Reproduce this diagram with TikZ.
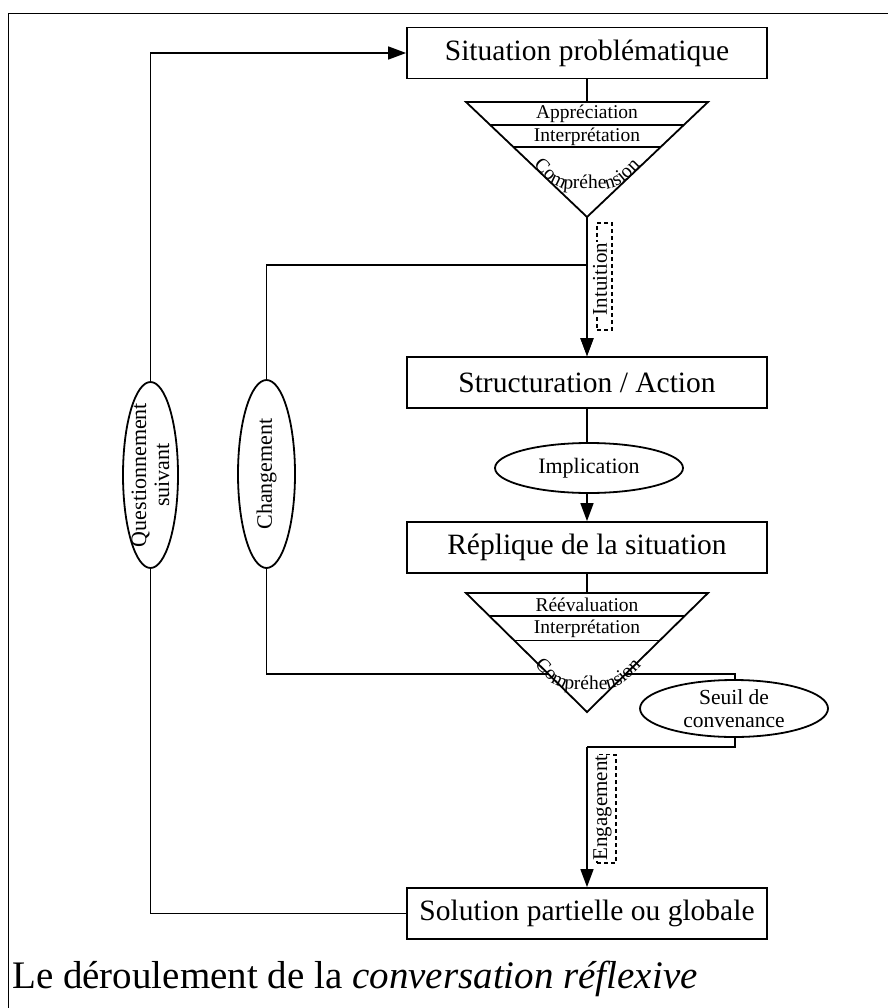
\documentclass[tikz,border=0pt]{standalone}
\usepackage{fontspec}
\setmainfont{Liberation Serif}
\usetikzlibrary{shapes.geometric, arrows.meta, decorations.text, calc}
\begin{document}
\begin{tikzpicture}[x=1pt,y=-1pt,
  box/.style={draw, line width=1.8pt, minimum width=360pt, minimum height=51pt, inner sep=0pt, font=\fontsize{29.5}{30}\selectfont},
  oval/.style={draw, ellipse, line width=1.8pt, fill=white, inner sep=0pt},
  conn/.style={line width=1.6pt},
  arr/.style={line width=1.6pt, -{Triangle[length=18pt,width=13pt]}},
  tri/.style={draw, line width=1.8pt, fill=white, line join=miter},
  lab/.style={font=\fontsize{19.5}{20}\selectfont, inner sep=0pt},
  olab/.style={font=\fontsize{22}{23}\selectfont, inner sep=0pt, align=center},
  dbox/.style={draw, dash pattern=on 4pt off 3pt, line width=1.6pt, inner sep=0pt},
  dlab/.style={font=\fontsize{21}{21}\selectfont, inner sep=1pt, rotate=90, fill=white},
]
\useasboundingbox (0,0) rectangle (887,1008);
\draw[line width=1pt] (8,1010) -- (8,14) -- (890,14);

% boxes
\node[box] (b1) at (587,53) {Situation problématique};
\node[box] (b2) at (587,382.5) {Structuration / Action};
\node[box] (b3) at (587,547.5) {Réplique de la situation};
\node[box] (b4) at (587,913.5) {Solution partielle ou globale};

% triangle coordinates
\coordinate (t1l) at (466,102);
\coordinate (t1r) at (708,102);
\coordinate (t1a) at (587,217);
\coordinate (t2l) at (466,593);
\coordinate (t2r) at (708,593);
\coordinate (t2a) at (587,712);

% ellipse nodes (shapes)
\node[oval, minimum width=55pt, minimum height=186pt] (qs) at (150.5,475) {};
\node[oval, minimum width=57pt, minimum height=188pt] (ch) at (266.5,474) {};

% connectors
\coordinate (chtop) at (587,265);
\coordinate (sr1) at (735,674);
\coordinate (sr2) at (735,747);
\coordinate (eng) at (587,747);

\draw[conn] (b1.south) -- (b1.south |- t1l);
\draw[arr] (t1a) -- (b2.north);
\draw[arr] (qs.north) |- (b1.west);
\draw[conn] (qs.south) |- (b4.west);
\draw[arr] (ch.north) |- (chtop) -- (b2.north);
\draw[conn] (ch.south) |- (sr1) -- (sr2) -- (eng);
\draw[arr] (eng) -- (b4.north);
\draw[conn] (b3.south) -- (b3.south |- t2l);

\node[oval, minimum width=188pt, minimum height=50pt] (imp) at (589,468) {};
\draw[conn] (b2.south) -- (b2.south |- imp.north);
\draw[arr] (b2.south |- imp.south) -- (b3.north);

% triangles
\draw[tri] (t1l) -- (t1r) -- (t1a) -- cycle;
\draw[conn] ($(t1l)!0.2!(t1a)$) -- ($(t1r)!0.2!(t1a)$);
\draw[conn] ($(t1l)!0.39!(t1a)$) -- ($(t1r)!0.39!(t1a)$);
\draw[tri] (t2l) -- (t2r) -- (t2a) -- cycle;
\draw[conn] ($(t2l)!0.195!(t2a)$) -- ($(t2r)!0.195!(t2a)$);
\draw[conn] ($(t2l)!0.4!(t2a)$) -- ($(t2r)!0.4!(t2a)$);

\node[lab] (ap) at (587,114) {Appréciation};
\node[lab] (in1) at (587,136.5) {Interprétation};
\node[lab] (ree) at (587,605) {Réévaluation};
\node[lab] (in2) at (587,629) {Interprétation};

\path[rounded corners=13pt, decorate, decoration={text along path, text align=center,
  text={|\fontsize{19.5}{20}\selectfont|Compréhension}}]
  (516,148) -- (557,189) -- (617,189) -- (658,148);
\path[rounded corners=13pt, decorate, decoration={text along path, text align=center,
  text={|\fontsize{19.5}{20}\selectfont|Compréhension}}]
  (517,648) -- (558,689) -- (618,689) -- (659,648);

% ellipse labels
\node[olab, rotate=90] (qst) at (qs) {Questionnement\\suivant};
\node[olab, rotate=90] (cht) at (ch) {Changement};
\node[olab] (impt) at (imp) {Implication};
\node[oval, minimum width=188pt, minimum height=57pt] (seuil) at (734,708.5) {};
\node[olab, font=\fontsize{21.5}{23}\selectfont] (seuilt) at (seuil) {Seuil de\\convenance};

% dashed labels
\node[dbox, minimum width=15pt, minimum height=107pt] (intubox) at (604.5,276.5) {};
\node[dlab] (intu) at (600,279) {Intuition};
\node[dbox, minimum width=19pt, minimum height=108pt] (engbox) at (606.5,809) {};
\node[dlab] (engt) at (602.5,808) {Engagement};

% caption
\node[anchor=base west, font=\fontsize{39}{40}\selectfont, inner sep=0pt] (cap) at (12,988)
  {Le déroulement de la \textit{conversation réflexive}};
\end{tikzpicture}
\end{document}
